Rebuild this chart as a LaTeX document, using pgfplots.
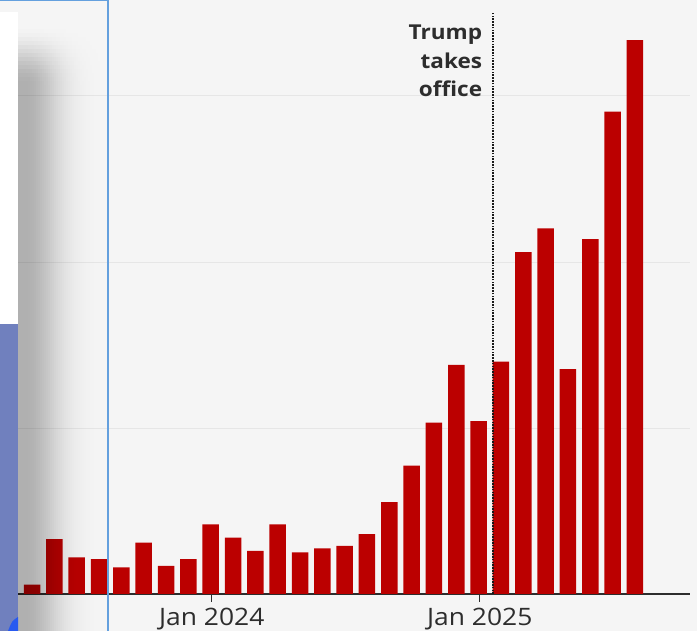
\documentclass[border=0pt]{standalone}
\usepackage{fontspec}
\setmainfont{Open Sans}[FakeStretch=1.1]
\usepackage{pgfplots}
\usepackage{pgfplotstable}
\pgfplotsset{compat=1.18}

\definecolor{bbcred}{RGB}{187,0,0}
\definecolor{bg}{RGB}{245,245,245}
\definecolor{gridgray}{RGB}{230,230,230}
\definecolor{ink}{RGB}{45,45,45}
\definecolor{panelblue}{RGB}{112,128,190}
\definecolor{edgeblue}{RGB}{100,160,222}
\definecolor{brightblue}{RGB}{40,90,240}

% monthly bars, May 2023 (0) to Aug 2025 (27)
\pgfplotstableread{
m v
0 5.6
1 33
2 22
3 21
4 16
5 31
6 17
7 21
8 42
9 34
10 26
11 42
12 25
13 27.5
14 29
15 36
16 55.4
17 77.3
18 103.2
19 138
20 104.2
21 140
22 206
23 220.3
24 135.5
25 213.7
26 290.5
27 333.7
}\monthly

\begin{document}
\begin{tikzpicture}
\useasboundingbox (0pt,0pt) rectangle (697pt,631pt);
\fill[bg] (0pt,0pt) rectangle (697pt,631pt);

\begin{axis}[
  at={(0pt,37pt)}, anchor=south west,
  scale only axis, width=690pt, height=594pt,
  xmin=-1.433, xmax=29.463, ymin=0, ymax=357.8,
  axis lines*=left,
  x axis line style={draw=ink, line width=1.4pt},
  y axis line style={draw=none},
  ytick={100,200,300}, yticklabels={}, ymajorgrids,
  grid style={draw=gridgray, line width=0.9pt},
  ytick style={draw=none},
  xtick={8.05,20.05}, xticklabels={Jan 2024, Jan 2025},
  tick align=outside, major tick length=8pt,
  xtick style={draw=ink, line width=1.2pt},
  xticklabel style={anchor=base, yshift=-24pt,
    font=\fontsize{24}{28}\selectfont, text=ink},
  clip=false,
]
\addplot[ybar, bar width=16.5pt, fill=bbcred, draw=none]
  table[x=m, y=v] {\monthly};

\draw[black!90, line width=2.4pt, dash pattern=on 1.5pt off 1.3pt]
  (axis cs:20.655,0) -- (axis cs:20.655,350.6);
\node[anchor=north east, inner sep=0pt, xshift=-11pt, align=right,
      font=\bfseries\fontsize{20.5}{28.5}\selectfont, text=ink]
  at (axis cs:20.655,342.8) {Trump\\takes\\office};
\end{axis}

% screenshot overlay on the left: shadow, panels, frame line
\foreach \i in {0,...,40} {
  \pgfmathsetmacro\xa{18+2*\i}
  \pgfmathsetmacro\xb{\xa+2}
  \pgfmathsetmacro\xc{\xa+1}
  \pgfmathsetmacro\al{\xc<25 ? 0.28 : 0.28*exp(-((\xc-25)/35)^2)}
  \fill[black, fill opacity=\al] (\xa pt,0pt) rectangle (\xb pt,546pt);
  \foreach \j in {0,...,14} {
    \pgfmathsetmacro\ya{546+4*\j}
    \pgfmathsetmacro\yb{\ya+4}
    \pgfmathsetmacro\t{1-(\j+0.5)/15}
    \pgfmathsetmacro\ab{\al*\t*\t*(3-2*\t)}
    \fill[black, fill opacity=\ab] (\xa pt,\ya pt) rectangle (\xb pt,\yb pt);
  }
}
\fill[white] (0pt,307pt) rectangle (18pt,619pt);
\fill[panelblue] (0pt,0pt) rectangle (18pt,307pt);
\fill[brightblue] (8pt,0pt) -- (18pt,0pt) -- (18pt,14pt) .. controls (12pt,10pt) .. (8pt,0pt);
\draw[edgeblue, line width=2pt] (108pt,0pt) -- (108pt,631pt);
\draw[edgeblue, line width=1.5pt] (0pt,630.3pt) -- (108pt,630.3pt);
\end{tikzpicture}
\end{document}
